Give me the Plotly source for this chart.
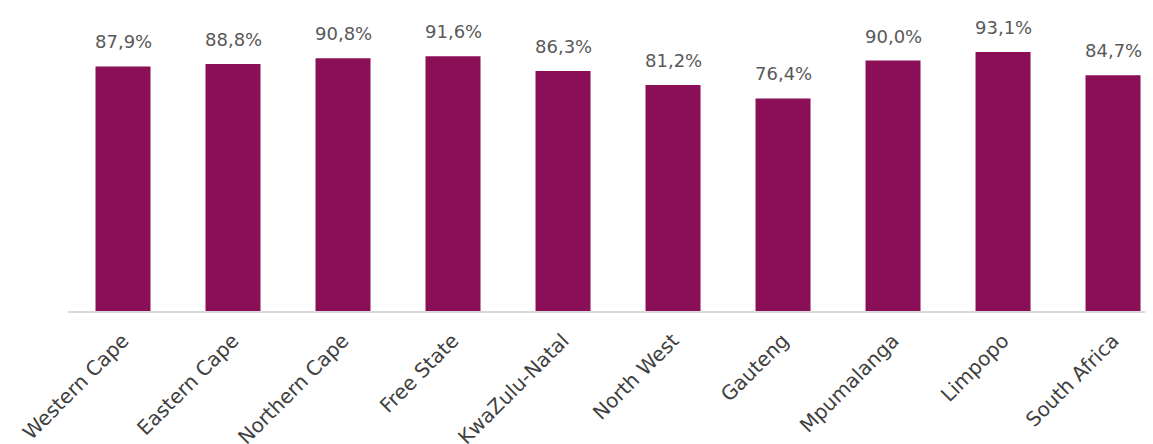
import plotly.graph_objects as go

provinces = ["Western Cape", "Eastern Cape", "Northern Cape", "Free State", "KwaZulu-Natal",
             "North West", "Gauteng", "Mpumalanga", "Limpopo", "South Africa"]
values = [87.9, 88.8, 90.8, 91.6, 86.3, 81.2, 76.4, 90.0, 93.1, 84.7]
labels = [f"{v:.1f}".replace(".", ",") + "%" for v in values]

BAR = "#8A0F56"
FONT = "DejaVu Sans"

fig = go.Figure(go.Bar(x=provinces, y=values, marker=dict(color=BAR, line=dict(width=0)),
                       width=0.5, hoverinfo="skip"))

for p, v, t in zip(provinces, values, labels):
    fig.add_annotation(x=p, y=v, text=t, showarrow=False, yanchor="bottom", yshift=12,
                       font=dict(family=FONT, size=18, color="#595959"))

fig.update_layout(
    width=1153, height=444,
    margin=dict(l=60, r=0, t=0, b=141, autoexpand=False),
    paper_bgcolor="white", plot_bgcolor="white",
    showlegend=False,
    xaxis=dict(range=[-0.5, 9.436], tickangle=-45, showline=True, linecolor="#D9D9D9",
               linewidth=2, ticks="", showgrid=False, zeroline=False, automargin=False,
               ticklabelstandoff=8,
               tickfont=dict(family=FONT, size=20, color="#404040")),
    yaxis=dict(range=[0, 108.9], visible=False, showgrid=False, zeroline=False, automargin=False),
)

fig.write_html("out.html")
